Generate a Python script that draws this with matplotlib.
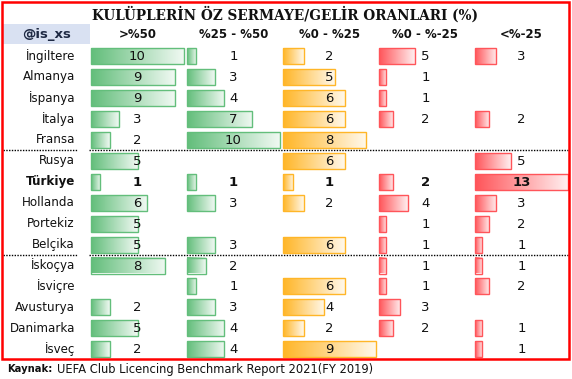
import numpy as np
import matplotlib.pyplot as plt
from matplotlib.colors import LinearSegmentedColormap, to_rgb
from matplotlib.patches import Rectangle

countries = ['İngiltere', 'Almanya', 'İspanya', 'İtalya', 'Fransa', 'Rusya', 'Türkiye',
             'Hollanda', 'Portekiz', 'Belçika', 'İskoçya', 'İsviçre', 'Avusturya',
             'Danimarka', 'İsveç']
headers = ['>%50', '%25 - %50', '%0 - %25', '%0 - %-25', '<%-25']

gt50 = [10, 9, 9, 3, 2, 5, 1, 6, 5, 5, 8, None, 2, 5, 2]
p25_50 = [1, 3, 4, 7, 10, None, 1, 3, None, 3, 2, 1, 3, 4, 4]
p0_25 = [2, 5, 6, 6, 8, 6, 1, 2, None, 6, None, 6, 4, 2, 9]
m0_25 = [5, 1, 1, 2, None, None, 2, 4, 1, 1, 1, 1, 3, 2, None]
lt_m25 = [3, None, None, 2, None, 5, 13, 3, 2, 1, 1, 2, None, 1, 1]

columns = [gt50, p25_50, p0_25, m0_25, lt_m25]
bar_colors = ['#63BE7B', '#63BE7B', '#FFB628', '#FF555A', '#FF555A']

title = 'KULÜPLERİN ÖZ SERMAYE/GELİR ORANLARI (%)'
source = 'UEFA Club Licencing Benchmark Report 2021(FY 2019)'

# layout in pixels
W, H = 572, 379
col_x0 = 91
col_w = 96
bar_full = 93
row_y0 = 56
row_h = 20.95
bar_h = 16


def col_max(i):
    vals = [v for v in columns[i] if v is not None]
    if i >= 3:  # the two negative columns share one scale
        vals = [v for c in columns[3:] for v in c if v is not None]
    return max(vals)


fig = plt.figure(figsize=(W / 100, H / 100), dpi=100)
ax = fig.add_axes([0, 0, 1, 1])
ax.set_xlim(0, W)
ax.set_ylim(H, 0)
ax.axis('off')

# title
ax.text(285, 14, title, ha='center', va='center', fontsize=9.8,
        fontweight='bold', family='DejaVu Serif', color='#111111')

# header row
ax.add_patch(Rectangle((3, 24), 87, 20, facecolor='#D9E1F2', edgecolor='none'))
ax.text(47, 34.5, '@is_xs', ha='center', va='center', fontsize=9.5,
        fontweight='bold', color='#1F2A44')
for i, h in enumerate(headers):
    ax.text(col_x0 + i * col_w + 46.5, 35, h, ha='center', va='center',
            fontsize=8.5, fontweight='bold', color='#111111')

for r, name in enumerate(countries):
    y = row_y0 + r * row_h
    weight = 'bold' if name == 'Türkiye' else 'normal'
    ax.text(75, y, name, ha='right', va='center', fontsize=8.6,
            fontweight=weight, color='#111111')
    for i, col in enumerate(columns):
        v = col[r]
        if v is None:
            continue
        x0 = col_x0 + i * col_w
        w = bar_full * v / col_max(i)
        c = to_rgb(bar_colors[i])
        light = tuple(ch + (1 - ch) * 0.9 for ch in c)
        cmap = LinearSegmentedColormap.from_list('g', [c, light])
        ax.imshow(np.linspace(0, 1, 64).reshape(1, -1), cmap=cmap, aspect='auto',
                  extent=[x0, x0 + w, y + bar_h / 2, y - bar_h / 2],
                  interpolation='bilinear', zorder=2)
        ax.add_patch(Rectangle((x0, y - bar_h / 2), w, bar_h, facecolor='none',
                               edgecolor=bar_colors[i], linewidth=1, zorder=3))
        ax.text(x0 + 46.5, y + 0.5, str(v), ha='center', va='center', fontsize=9.5,
                fontweight=weight, color='#111111', zorder=4)

# dotted group separators
for r in (4, 9):
    y = row_y0 + (r + 0.5) * row_h
    ax.plot([3, 77], [y, y], ls=(0, (1, 1)), color='black', lw=1)
    ax.plot([89, 568], [y, y], ls=(0, (1, 1)), color='black', lw=1)

# red frame
ax.add_patch(Rectangle((1.5, 1.5), 567.5, 357.5, facecolor='none',
                       edgecolor='#FF0000', linewidth=1.8, zorder=5))

# source
ax.text(7, 369, 'Kaynak:', ha='left', va='center', fontsize=7.2, fontweight='bold',
        color='#111111')
ax.text(57, 369, source, ha='left', va='center', fontsize=8.3, color='#111111')

fig.savefig('out.png', dpi=100)
